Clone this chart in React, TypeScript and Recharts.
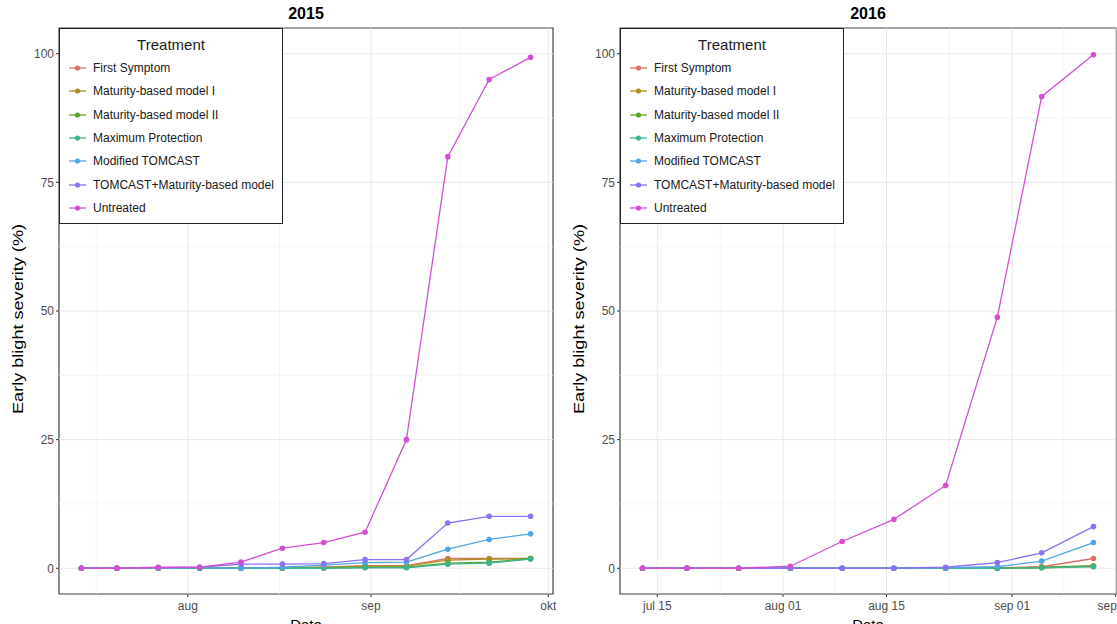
import React from "react";
import { LineChart, Line, XAxis, YAxis, ReferenceLine, ReferenceArea, Legend } from "recharts";

const treatments = [
  "First Symptom",
  "Maturity-based model I",
  "Maturity-based model II",
  "Maximum Protection",
  "Modified TOMCAST",
  "TOMCAST+Maturity-based model",
  "Untreated",
];
const colors = ["#e0706a", "#a8901c", "#5ba324", "#3fb38c", "#4fa6e0", "#8a72f2", "#d24fd2"];

// 2015 season, weekly ratings
const dates2015 = [
  "2015-07-14", "2015-07-20", "2015-07-27", "2015-08-03", "2015-08-10", "2015-08-17",
  "2015-08-24", "2015-08-31", "2015-09-07", "2015-09-14", "2015-09-21", "2015-09-28",
];
const firstSymptom2015 = [0, 0, 0, 0, 0, 0, 0.2, 0.5, 0.5, 1.9, 1.9, 1.9];
const maturityI2015 = [0, 0, 0, 0, 0, 0, 0.2, 0.4, 0.4, 1.6, 1.8, 1.9];
const maturityII2015 = [0, 0, 0, 0, 0, 0, 0.1, 0.2, 0.2, 1.0, 1.2, 1.9];
const maxProtection2015 = [0, 0, 0, 0, 0, 0, 0, 0.1, 0.1, 0.8, 1.0, 1.8];
const modTomcast2015 = [0, 0, 0.1, 0.1, 0, 0.2, 0.6, 1.1, 1.2, 3.7, 5.6, 6.7];
const tomcastMat2015 = [0, 0, 0.1, 0.2, 0.8, 0.8, 0.9, 1.7, 1.7, 8.8, 10.1, 10.1];
const untreated2015 = [0, 0, 0.2, 0.2, 1.2, 3.9, 5.0, 7.0, 25.0, 80.0, 95.0, 99.3];

// 2016 season
const dates2016 = [
  "2016-07-13", "2016-07-19", "2016-07-26", "2016-08-02", "2016-08-09",
  "2016-08-16", "2016-08-23", "2016-08-30", "2016-09-05", "2016-09-12",
];
const firstSymptom2016 = [0, 0, 0, 0, 0, 0, 0, 0.1, 0.3, 1.9];
const maturityI2016 = [0, 0, 0, 0, 0, 0, 0, 0, 0.2, 0.5];
const maturityII2016 = [0, 0, 0, 0, 0, 0, 0, 0, 0.1, 0.4];
const maxProtection2016 = [0, 0, 0, 0, 0, 0, 0, 0, 0.1, 0.3];
const modTomcast2016 = [0, 0, 0, 0, 0, 0, 0.1, 0.3, 1.4, 5.0];
const tomcastMat2016 = [0, 0, 0, 0, 0, 0, 0.2, 1.1, 3.0, 8.1];
const untreated2016 = [0, 0, 0, 0.4, 5.2, 9.5, 16.1, 48.8, 91.7, 99.8];

const xTicks2015 = ["2015-08-01", "2015-09-01", "2015-10-01"];
const xLabels2015 = ["aug", "sep", "okt"];
const xGrid2015 = ["2015-07-01", ...xTicks2015];
const xTicks2016 = ["2016-07-15", "2016-08-01", "2016-08-15", "2016-09-01", "2016-09-15"];
const xLabels2016 = ["jul 15", "aug 01", "aug 15", "sep 01", "sep 15"];
const xGrid2016 = ["2016-07-01", ...xTicks2016];

const yTicks = [0, 25, 50, 75, 100];
const yMinor = [12.5, 37.5, 62.5, 87.5];

const FONT = "'Liberation Sans', Arial, sans-serif";
const W = 558;
const H = 624;

const toDay = (s: string) =>
  Date.UTC(+s.slice(0, 4), +s.slice(5, 7) - 1, +s.slice(8, 10)) / 86400000;

function TreatmentLegend() {
  return (
    <div
      style={{
        width: 224,
        height: 196,
        boxSizing: "border-box",
        border: "1px solid #222",
        background: "#fff",
        fontFamily: FONT,
        color: "#1a1a1a",
        paddingTop: 6,
      }}
    >
      <div style={{ textAlign: "center", fontSize: 15, lineHeight: "20px" }}>Treatment</div>
      <div style={{ marginTop: 1.5 }}>
        {treatments.map((t, i) => (
          <div key={t} style={{ display: "flex", alignItems: "center", height: 23.33 }}>
            <svg width={33} height={8} style={{ flex: "none" }}>
              <line x1={9} x2={26} y1={4} y2={4} stroke={colors[i]} strokeWidth={1.3} />
              <circle cx={17.5} cy={4} r={2.6} fill={colors[i]} />
            </svg>
            <span style={{ fontSize: 12, whiteSpace: "nowrap" }}>{t}</span>
          </div>
        ))}
      </div>
    </div>
  );
}

interface PanelProps {
  year: string;
  dates: string[];
  series: number[][];
  ticks: string[];
  labels: string[];
  grid: string[];
  left: number;
  marginLeft: number;
  marginRight: number;
}

function Panel({ year, dates, series, ticks, labels, grid, left, marginLeft, marginRight }: PanelProps) {
  const days = dates.map(toDay);
  const data = days.map((day, i) => {
    const row: Record<string, number> = { day };
    treatments.forEach((t, k) => (row[t] = series[k][i]));
    return row;
  });
  const pad = (days[days.length - 1] - days[0]) * 0.05;
  const xDomain = [days[0] - pad, days[days.length - 1] + pad];
  const tickDays = ticks.map(toDay);
  const gridDays = grid.map(toDay);
  const minorDays = gridDays.slice(1).map((d, i) => (d + gridDays[i]) / 2);
  const labelOf = (v: number) => labels[tickDays.indexOf(v)] ?? "";

  const plotLeft = marginLeft + 40;
  const plotWidth = W - plotLeft - marginRight;

  return (
    <div style={{ position: "absolute", left, top: 0, width: W, height: H }}>
      <LineChart
        width={W}
        height={H}
        data={data}
        margin={{ top: 28, right: marginRight, bottom: 0, left: marginLeft }}
      >
        <XAxis
          dataKey="day"
          type="number"
          domain={xDomain}
          allowDataOverflow
          ticks={tickDays}
          interval={0}
          tickFormatter={labelOf}
          axisLine={false}
          tickSize={3}
          tickMargin={4}
          height={30}
          tickLine={{ stroke: "#333" }}
          tick={{ fill: "#4d4d4d", fontSize: 12, fontFamily: FONT }}
        />
        <YAxis
          type="number"
          domain={[-5, 105]}
          allowDataOverflow
          ticks={yTicks}
          interval={0}
          axisLine={false}
          tickSize={3}
          tickMargin={2}
          width={40}
          tickLine={{ stroke: "#333" }}
          tick={{ fill: "#4d4d4d", fontSize: 12, fontFamily: FONT }}
        />
        {minorDays.map((d) => (
          <ReferenceLine key={`mx${d}`} x={d} stroke="#f2f2f2" strokeWidth={0.8} />
        ))}
        {yMinor.map((v) => (
          <ReferenceLine key={`my${v}`} y={v} stroke="#f2f2f2" strokeWidth={0.8} />
        ))}
        {gridDays.map((d) => (
          <ReferenceLine key={`gx${d}`} x={d} stroke="#e8e8e8" strokeWidth={1} />
        ))}
        {yTicks.map((v) => (
          <ReferenceLine key={`gy${v}`} y={v} stroke="#e8e8e8" strokeWidth={1} />
        ))}
        {treatments.map((t, i) => (
          <Line
            key={t}
            dataKey={t}
            type="linear"
            stroke={colors[i]}
            strokeWidth={1.3}
            dot={{ r: 2.8, fill: colors[i], stroke: colors[i], strokeWidth: 0 }}
            activeDot={false}
            isAnimationActive={false}
          />
        ))}
        <ReferenceArea
          x1={xDomain[0]}
          x2={xDomain[1]}
          y1={-5}
          y2={105}
          fill="none"
          fillOpacity={0}
          stroke="#444"
          strokeWidth={1.2}
        />
        <Legend
          layout="vertical"
          align="center"
          verticalAlign="middle"
          wrapperStyle={{ top: 28, left: plotLeft, width: 224 }}
          content={() => <TreatmentLegend />}
        />
      </LineChart>
      <div
        style={{
          position: "absolute",
          top: 0,
          left: plotLeft,
          width: plotWidth,
          lineHeight: "28px",
          textAlign: "center",
          fontFamily: FONT,
          fontWeight: "bold",
          fontSize: 16,
          color: "#000",
        }}
      >
        {year}
      </div>
      <div
        style={{
          position: "absolute",
          top: 616,
          left: plotLeft,
          width: plotWidth,
          textAlign: "center",
          fontFamily: FONT,
          fontSize: 15,
          color: "#000",
        }}
      >
        Date
      </div>
      <svg style={{ position: "absolute", left: 0, top: 0 }} width={40} height={H}>
        <text
          transform={`translate(${plotLeft - 41.5}, 319) rotate(-90)`}
          textAnchor="middle"
          dominantBaseline="central"
          fontFamily={FONT}
          fontSize={14}
          textLength={190}
          lengthAdjust="spacingAndGlyphs"
          fill="#000"
        >
          Early blight severity (%)
        </text>
      </svg>
    </div>
  );
}

export default function App() {
  return (
    <div
      style={{
        position: "absolute",
        left: 0,
        top: 0,
        width: 1117,
        height: 624,
        overflow: "hidden",
        background: "#fff",
      }}
    >
      <Panel
        year="2015"
        dates={dates2015}
        series={[
          firstSymptom2015, maturityI2015, maturityII2015, maxProtection2015,
          modTomcast2015, tomcastMat2015, untreated2015,
        ]}
        ticks={xTicks2015}
        labels={xLabels2015}
        grid={xGrid2015}
        left={0}
        marginLeft={19}
        marginRight={5}
      />
      <Panel
        year="2016"
        dates={dates2016}
        series={[
          firstSymptom2016, maturityI2016, maturityII2016, maxProtection2016,
          modTomcast2016, tomcastMat2016, untreated2016,
        ]}
        ticks={xTicks2016}
        labels={xLabels2016}
        grid={xGrid2016}
        left={559}
        marginLeft={21}
        marginRight={1}
      />
    </div>
  );
}
